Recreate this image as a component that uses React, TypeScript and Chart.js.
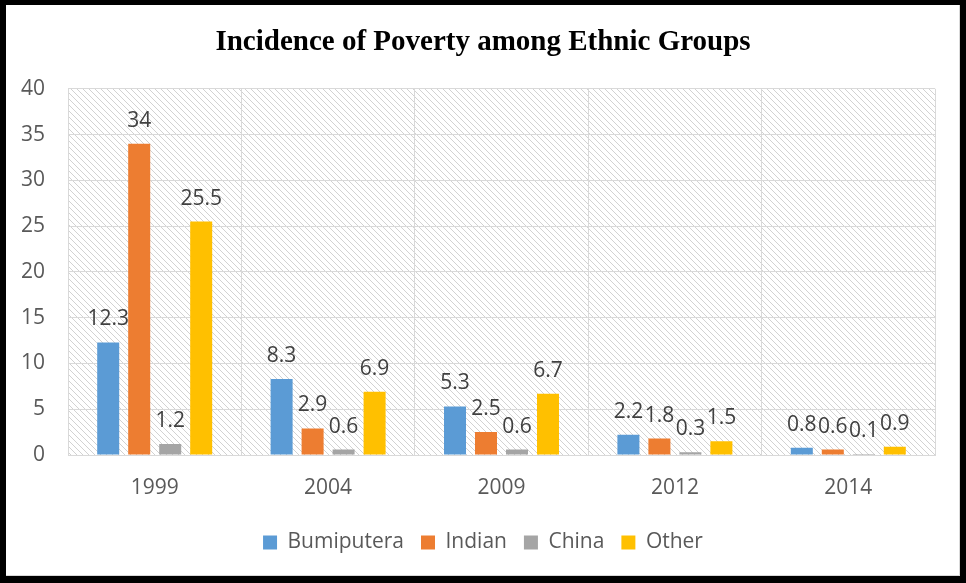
import React, { useEffect, useRef } from "react";
import { Chart, registerables } from "chart.js";

Chart.register(...registerables);

const categories = ["1999", "2004", "2009", "2012", "2014"];
const bumiputera = [12.3, 8.3, 5.3, 2.2, 0.8];
const indian = [34, 2.9, 2.5, 1.8, 0.6];
const china = [1.2, 0.6, 0.6, 0.3, 0.1];
const other = [25.5, 6.9, 6.7, 1.5, 0.9];
const seriesNames = ["Bumiputera", "Indian", "China", "Other"];
const seriesColors = ["#5B9BD5", "#ED7D31", "#A5A5A5", "#FFC000"];
const titleText = "Incidence of Poverty among Ethnic Groups";

const FONT = "'Open Sans', 'Noto Sans', sans-serif";

function makeHatch(): CanvasPattern | string {
  const c = document.createElement("canvas");
  c.width = 6;
  c.height = 6;
  const g = c.getContext("2d");
  if (!g) return "#ffffff";
  g.fillStyle = "#ffffff";
  g.fillRect(0, 0, 6, 6);
  g.fillStyle = "#d2d2d2";
  for (let i = 0; i < 6; i++) g.fillRect(i, i, 1, 1);
  const p = g.createPattern(c, "repeat");
  return p || "#ffffff";
}

const framePlugin = {
  id: "frame",
  beforeDraw(chart: any) {
    const { ctx, chartArea, width, height } = chart;
    ctx.save();
    ctx.fillStyle = "#ffffff";
    ctx.fillRect(0, 0, width, height);
    ctx.fillStyle = makeHatch();
    ctx.fillRect(chartArea.left, chartArea.top, chartArea.right - chartArea.left, chartArea.bottom - chartArea.top);
    ctx.restore();
  },
  afterDraw(chart: any) {
    const { ctx, width, height } = chart;
    ctx.save();
    ctx.fillStyle = "#d9d9d9";
    ctx.fillRect(width - 7, 5, 1, height - 12);
    ctx.fillRect(6, height - 8, width - 13, 1);
    ctx.fillStyle = "#000000";
    ctx.fillRect(0, 0, width, 5);
    ctx.fillRect(0, 0, 6, height);
    ctx.fillRect(width - 6, 0, 6, height);
    ctx.fillRect(0, height - 7, width, 7);
    ctx.restore();
  },
};

const labelPlugin = {
  id: "barLabels",
  afterDatasetsDraw(chart: any) {
    const { ctx } = chart;
    ctx.save();
    ctx.font = `21px ${FONT}`;
    ctx.fillStyle = "#404040";
    ctx.textAlign = "center";
    ctx.textBaseline = "alphabetic";
    chart.data.datasets.forEach((ds: any, di: number) => {
      const meta = chart.getDatasetMeta(di);
      meta.data.forEach((el: any, i: number) => {
        ctx.fillText(String(ds.data[i]), el.x, el.y - 17);
      });
    });
    ctx.restore();
  },
};

export default function App() {
  const ref = useRef<HTMLCanvasElement>(null);
  useEffect(() => {
    document.body.style.margin = "0";
    if (!ref.current) return;
    const data = [bumiputera, indian, china, other];
    const chart = new Chart(ref.current, {
      type: "bar",
      data: {
        labels: categories,
        datasets: seriesNames.map((n, i) => ({
          label: n,
          data: data[i],
          backgroundColor: seriesColors[i],
          borderWidth: 0,
          categoryPercentage: 0.715,
          barPercentage: 0.71,
        })),
      },
      options: {
        responsive: false,
        animation: false,
        devicePixelRatio: 1,
        layout: { padding: { left: 0, right: 0, top: 0, bottom: 20 } },
        font: { family: FONT },
        plugins: {
          title: {
            display: true,
            text: titleText,
            color: "#000000",
            font: { family: "'Liberation Serif', 'Times New Roman', serif", size: 29, weight: "bold", lineHeight: 1.2 },
            padding: { top: 25, bottom: 29 },
          },
          legend: {
            position: "bottom",
            labels: {
              boxWidth: 14,
              boxHeight: 14,
              padding: 17,
              color: "#595959",
              font: { family: FONT, size: 21 },
            },
          },
          tooltip: { enabled: false },
        },
        scales: {
          x: {
            grid: { color: "#d9d9d9", drawTicks: false, offset: true },
            border: { color: "#d9d9d9" },
            ticks: { color: "#595959", font: { family: FONT, size: 21 }, padding: 20 },
            afterFit(scale: any) {
              scale.height = 60;
            },
          },
          y: {
            min: 0,
            max: 40,
            ticks: { stepSize: 5, color: "#595959", font: { family: FONT, size: 21 }, padding: 23 },
            grid: { color: "#d9d9d9", drawTicks: false },
            border: { color: "#d9d9d9" },
            afterFit(scale: any) {
              scale.width = 68;
            },
          },
          yRight: {
            position: "right",
            min: 0,
            max: 40,
            ticks: { display: false },
            grid: { display: false, drawTicks: false },
            border: { display: false },
            afterFit(scale: any) {
              scale.width = 31;
            },
          },
        },
      },
      plugins: [framePlugin, labelPlugin],
    });
    return () => chart.destroy();
  }, []);
  return <canvas ref={ref} width={966} height={583} style={{ display: "block" }} />;
}
